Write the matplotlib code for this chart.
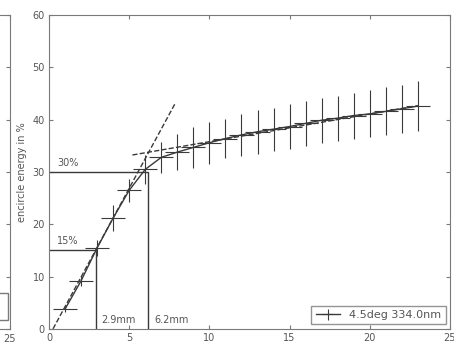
import numpy as np
import matplotlib.pyplot as plt
from matplotlib.patches import Rectangle

# encircled energy vs radius
radius = [1, 2, 3, 4, 5, 6, 7, 8, 9, 10, 11, 12,
          13, 14, 15, 16, 17, 18, 19, 20, 21, 22, 23]
energy = [3.8, 9.2, 15.5, 21.2, 26.5, 30.5, 32.8, 33.8, 34.7, 35.6, 36.4, 37.1,
          37.7, 38.2, 38.7, 39.3, 39.9, 40.3, 40.8, 41.1, 41.6, 42.1, 42.6]
energy_err = [0.5, 1.0, 1.5, 2.4, 2.2, 2.8, 2.9, 3.5, 3.9, 4.0, 3.8, 4.0,
              4.2, 4.1, 4.3, 4.3, 4.3, 4.3, 4.4, 4.5, 4.6, 4.6, 4.8]
radius_err = [0.75] * len(radius)
label = "4.5deg 334.0nm"

# linear fits (slope, intercept, x range)
fit_steep = (5.66, -1.4, [0.25, 7.85])
fit_flat = (0.53, 30.5, [5.2, 23.0])

# thresholds and radii where they are reached
levels = [15, 30]
level_radius = [2.9, 6.2]

line_c = "#3a3a3a"
frame_c = "#7a7a7a"
text_c = "#555555"

fig = plt.figure(figsize=(4.54, 3.43), dpi=100)

# neighbouring panel, only its right edge shows
ax0 = fig.add_axes([-0.5, 0.041, 0.5 + 10 / 454, 0.915])
ax0.set_xlim(0, 25)
ax0.set_ylim(0, 60)
ax0.set_xticks([0, 5, 10, 15, 20, 25])
ax0.set_xticklabels(["", "", "", "", "", "25"])
ax0.set_yticks(range(0, 61, 10))
ax0.set_yticklabels([])
ax0.tick_params(direction="in", top=True, right=True, labelsize=7,
                colors=frame_c, labelcolor=text_c, length=3)
for s in ax0.spines.values():
    s.set_color(frame_c)
# its legend frame
ax0.add_patch(Rectangle((0.6, 0.03), 0.39, 0.085, transform=ax0.transAxes,
                        fill=False, edgecolor=frame_c, lw=1))

ax = fig.add_axes([49 / 454, 0.041, 401 / 454, 0.915])
ax.errorbar(radius, energy, yerr=energy_err, xerr=radius_err, color=line_c,
            lw=1, elinewidth=0.8, capsize=0, label=label)

for slope, icpt, xr in (fit_steep, fit_flat):
    xs = np.array(xr)
    ax.plot(xs, slope * xs + icpt, ls="--", color=line_c, lw=1)

for lev, r in zip(levels, level_radius):
    ax.plot([0, r, r], [lev, lev, 0], color=line_c, lw=1)
    ax.text(0.5, lev + 0.8, f"{lev}%", fontsize=7, color=text_c,
            va="bottom", ha="left")
    ax.text(r + 0.35, 0.8, f"{r}mm", fontsize=7, color=text_c,
            va="bottom", ha="left")

ax.set_xlim(0, 25)
ax.set_ylim(0, 60)
ax.set_xticks([0, 5, 10, 15, 20, 25])
ax.set_yticks(range(0, 61, 10))
ax.set_ylabel("encircle energy in %", fontsize=7, color=text_c, labelpad=4)
ax.tick_params(direction="in", top=True, right=True, labelsize=7,
               colors=frame_c, labelcolor=text_c, length=3, pad=3)
for s in ax.spines.values():
    s.set_color(frame_c)
ax.legend(loc="lower right", fontsize=8, fancybox=False, edgecolor=frame_c,
          borderaxespad=0.4, handlelength=2.2, labelcolor=text_c)

fig.savefig("out.png", dpi=100)
